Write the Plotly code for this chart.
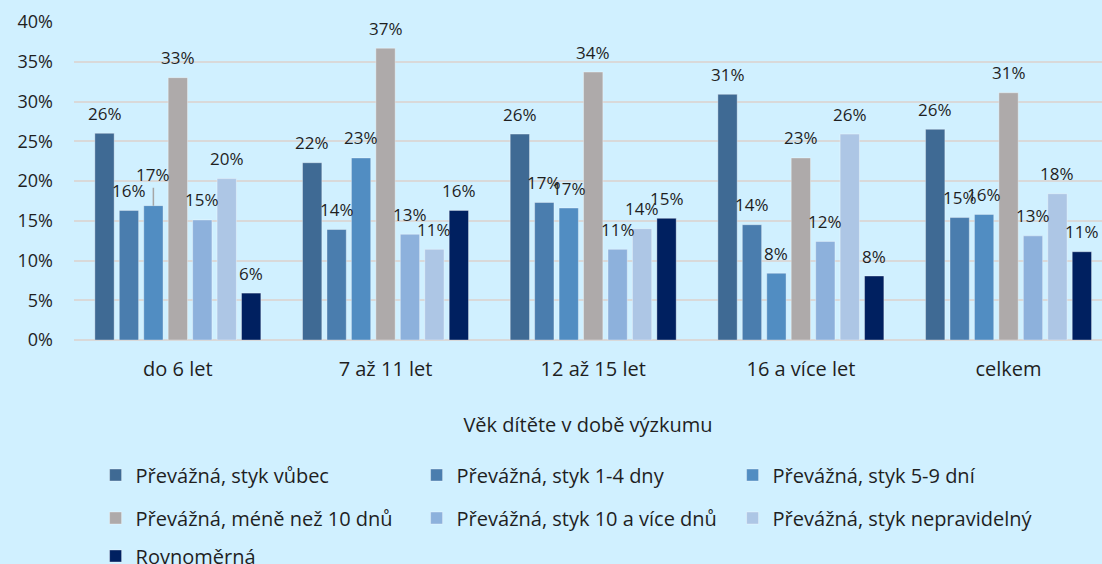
import plotly.graph_objects as go

categories = ["do 6 let", "7 až 11 let", "12 až 15 let", "16 a více let", "celkem"]
series_names = [
    "Převážná, styk vůbec",
    "Převážná, styk 1-4 dny",
    "Převážná, styk 5-9 dní",
    "Převážná, méně než 10 dnů",
    "Převážná, styk 10 a více dnů",
    "Převážná, styk nepravidelný",
    "Rovnoměrná",
]
vals_vubec = [26.0, 22.3, 25.9, 30.9, 26.5]
vals_1_4 = [16.3, 13.9, 17.3, 14.5, 15.4]
vals_5_9 = [16.9, 22.9, 16.6, 8.4, 15.8]
vals_mene10 = [33.0, 36.7, 33.7, 22.9, 31.1]
vals_10plus = [15.1, 13.3, 11.4, 12.4, 13.1]
vals_neprav = [20.3, 11.4, 14.0, 25.9, 18.4]
vals_rovnom = [5.9, 16.3, 15.3, 8.05, 11.1]
series_values = [vals_vubec, vals_1_4, vals_5_9, vals_mene10, vals_10plus, vals_neprav, vals_rovnom]

colors = ["#3F6A94", "#4A7DAE", "#518DC2", "#AEAAAA", "#8DB1DC", "#ADC6E5", "#002060"]
legend_ids = ["legend", "legend", "legend", "legend2", "legend2", "legend2", "legend3"]
legend_widths = [276, 271, 271, 276, 271, 271, 276]

FONT = "Open Sans"
TXT = "#1f1f1f"
BARGAP = 0.176
n_series = len(series_names)

fig = go.Figure()
for name, vals, col, lg, lw in zip(series_names, series_values, colors, legend_ids, legend_widths):
    fig.add_trace(go.Bar(
        name=name, x=categories, y=vals,
        marker=dict(color=col, line=dict(color="rgba(255,255,255,0.35)", width=1)),
        legend=lg, legendwidth=lw,
    ))

# data labels placed above each bar (centre of each bar slot within its group)
slot = (1 - BARGAP) / n_series
for j, vals in enumerate(series_values):
    for i, v in enumerate(vals):
        xpos = i - (1 - BARGAP) / 2 + (j + 0.5) * slot
        leader = (i == 0 and j == 2)
        fig.add_annotation(
            x=xpos, y=v, xref="x", yref="y", text=f"{round(v):.0f}%",
            showarrow=leader, arrowhead=0, arrowwidth=1.5, arrowcolor="#A6A6A6",
            ax=0, ay=-31, yanchor="middle" if not leader else "auto",
            yshift=0 if leader else 20,
            font=dict(family=FONT, size=17, color=TXT),
        )

leg_common = dict(orientation="h", xref="paper", yref="container", xanchor="left", yanchor="middle",
                  font=dict(family=FONT, size=20, color=TXT),
                  bgcolor="rgba(0,0,0,0)", itemclick=False, x=0.021)

fig.update_layout(
    width=1102, height=564,
    paper_bgcolor="#D0F0FF", plot_bgcolor="#D0F0FF",
    margin=dict(l=74, r=0, t=22, b=224),
    barmode="group", bargap=BARGAP, bargroupgap=0.21,
    font=dict(family=FONT, size=17, color=TXT),
    showlegend=True,
    legend=dict(**leg_common, y=1 - 475 / 564),
    legend2=dict(**leg_common, y=1 - 518 / 564),
    legend3=dict(**leg_common, y=1 - 556 / 564),
    xaxis=dict(range=[-0.5, 4.45], showgrid=False, showline=False, ticks="",
               tickfont=dict(family=FONT, size=20, color=TXT), ticklabelstandoff=15,
               title=dict(text="Věk dítěte v době výzkumu", font=dict(family=FONT, size=20, color=TXT), standoff=36)),
    yaxis=dict(range=[0, 40], dtick=5, ticksuffix="%", showgrid=True, gridcolor="#D9D9D9", gridwidth=2,
               zeroline=True, zerolinecolor="#D9D9D9", zerolinewidth=2, showline=False,
               tickfont=dict(family=FONT, size=18, color=TXT), ticklabelstandoff=20),
)

fig.write_html("out.html", config={"displayModeBar": False},
               post_script="document.body.style.margin='0';document.body.style.overflow='hidden';")
